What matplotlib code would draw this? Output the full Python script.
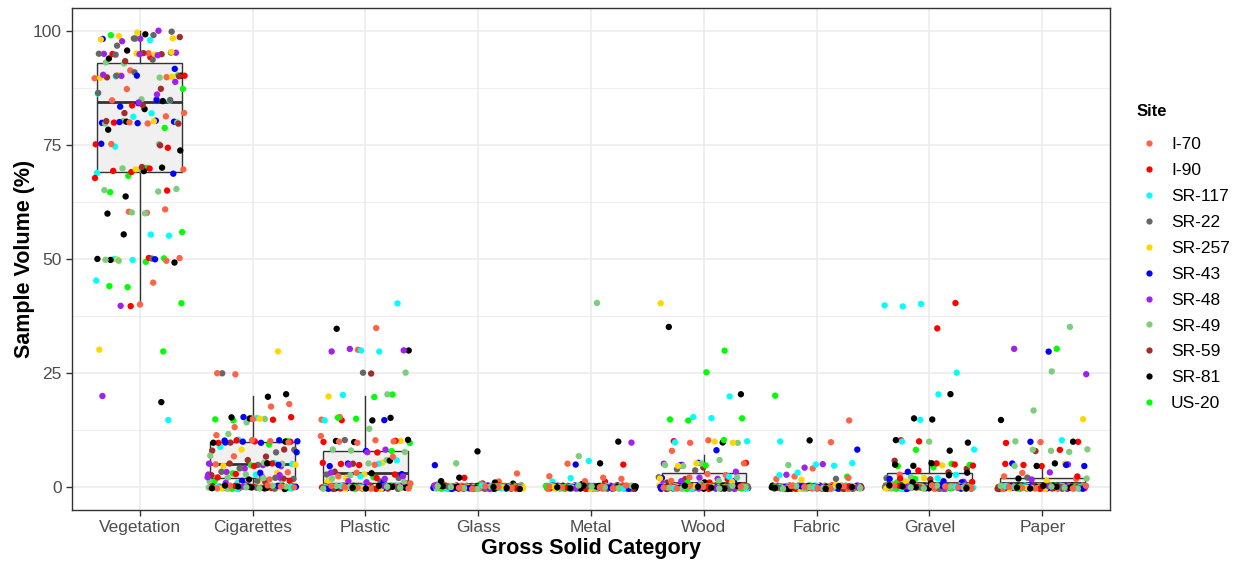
import matplotlib.pyplot as plt
from matplotlib.lines import Line2D

plt.rcParams['font.family'] = ['Liberation Sans', 'DejaVu Sans']

categories = ["Vegetation", "Cigarettes", "Plastic", "Glass", "Metal",
              "Wood", "Fabric", "Gravel", "Paper"]
sites = ["I-70", "I-90", "SR-117", "SR-22", "SR-257", "SR-43",
         "SR-48", "SR-49", "SR-59", "SR-81", "US-20"]
site_colors = ["#FF6347", "#FF0000", "#00FFFF", "#666666", "#FFD700", "#0000FF",
               "#A020F0", "#7CCD7C", "#A52A2A", "#000000", "#00FF00"]

# sample volume (%) per site; samples not listed in a category are 0
vegetation = {
    "I-70": [90, 90, 95, 91, 85, 82, 81, 80, 80, 75, 70, 61, 60, 60, 50, 50, 45, 40, 87],
    "I-90": [94, 84, 80, 75, 74, 70, 69, 69, 68, 65, 50, 40, 95, 90],
    "SR-117": [90, 86, 85, 82, 81, 75, 69, 55, 55, 50, 50, 45, 15, 98],
    "SR-22": [100, 99, 98, 97, 95, 95, 94, 91, 90, 86, 85, 50, 98, 95],
    "SR-257": [100, 99, 98, 98, 95, 95, 90, 90, 90, 80, 70, 50, 30, 95],
    "SR-43": [98, 92, 85, 84, 83, 80, 80, 80, 80, 80, 75, 69, 50, 90],
    "SR-48": [100, 98, 98, 95, 95, 95, 95, 90, 90, 89, 86, 84, 40, 20],
    "SR-49": [93, 93, 90, 90, 85, 80, 80, 80, 75, 70, 70, 65, 65, 65, 60, 60, 50, 50],
    "SR-59": [99, 95, 95, 93, 90, 90, 87, 84, 82, 80, 80, 75, 70],
    "SR-81": [99, 96, 94, 90, 85, 83, 80, 78, 74, 70, 69, 64, 60, 55, 50, 50, 49, 19],
    "US-20": [99, 87, 79, 70, 68, 65, 56, 50, 49, 44, 44, 40, 30],
}
cigarettes = {
    "I-70": [25, 25, 18, 18, 15, 13, 11, 10, 10, 10, 7, 5, 3, 2],
    "I-90": [15, 15, 10, 10, 10, 10, 5, 5, 3, 2, 1],
    "SR-117": [15, 10, 9, 5, 5, 3, 1],
    "SR-22": [25, 8, 8, 5, 4, 3, 2, 2, 1],
    "SR-257": [30, 15, 8, 5, 5, 3, 2, 1],
    "SR-43": [15, 10, 10, 10, 10, 10, 10, 8, 5, 3, 1],
    "SR-48": [5, 5, 5, 4, 3, 3, 2, 2, 1, 1, 2, 3],
    "SR-49": [15, 14, 12, 7, 5, 5, 3, 2, 1, 1, 2],
    "SR-59": [10, 8, 8, 7, 6, 5, 3, 2, 1],
    "SR-81": [20, 20, 15, 15, 10, 10, 5, 2],
    "US-20": [15, 15, 15, 10, 9, 5, 3, 1],
}
plastic = {
    "I-70": [35, 30, 15, 15, 10, 10, 10, 10, 11, 7, 5, 3, 2, 1],
    "I-90": [15, 10, 10, 8, 5, 5, 5, 3, 2],
    "SR-117": [40, 30, 30, 20, 15, 6, 5, 2],
    "SR-22": [25, 10, 3, 2, 1],
    "SR-257": [20, 10, 5, 3, 2, 1],
    "SR-43": [15, 8, 5, 5, 3, 1],
    "SR-48": [30, 30, 30, 8, 8, 5, 3, 2, 2, 1, 1],
    "SR-49": [25, 20, 13, 8, 8, 8, 6, 5, 3, 2, 1],
    "SR-59": [25, 5, 3, 1],
    "SR-81": [35, 30, 15, 15, 10, 10, 10, 6, 3],
    "US-20": [20, 20, 15, 15, 10, 8, 2],
}
glass = {
    "I-70": [3, 1, 1], "I-90": [1, 2], "SR-117": [], "SR-22": [], "SR-257": [],
    "SR-43": [5], "SR-48": [], "SR-49": [5, 1], "SR-59": [],
    "SR-81": [8, 2, 1, 1, 1], "US-20": [1],
}
metal = {
    "I-70": [5, 2, 2, 2, 1], "I-90": [5, 1], "SR-117": [6, 2, 1], "SR-22": [],
    "SR-257": [], "SR-43": [5], "SR-48": [10], "SR-49": [40, 7], "SR-59": [],
    "SR-81": [10, 5, 1], "US-20": [1],
}
wood = {
    "I-70": [10, 10, 8, 5, 3, 3, 2, 1],
    "I-90": [10, 5, 2, 1],
    "SR-117": [20, 15, 15, 10, 10, 2],
    "SR-22": [4, 4, 2, 1],
    "SR-257": [40, 10, 10, 5, 5, 2, 1],
    "SR-43": [8, 5, 5, 2, 1],
    "SR-48": [5, 5, 3, 2, 2, 1, 1],
    "SR-49": [10, 6, 5, 5, 5, 2, 1, 1],
    "SR-59": [4, 2, 1],
    "SR-81": [35, 20, 10, 1],
    "US-20": [30, 25, 15, 15, 15, 10, 5, 1],
}
fabric = {
    "I-70": [15, 10, 4, 2, 2, 2], "I-90": [], "SR-117": [10, 5, 5, 5, 3, 3],
    "SR-22": [2], "SR-257": [2], "SR-43": [8], "SR-48": [5, 4, 3],
    "SR-49": [5], "SR-59": [], "SR-81": [10], "US-20": [20, 2],
}
gravel = {
    "I-70": [3, 1],
    "I-90": [40, 35, 10, 10, 5, 5, 5, 4, 2, 1],
    "SR-117": [40, 40, 40, 25, 20, 15, 10, 8, 3, 2],
    "SR-22": [2],
    "SR-257": [5, 2, 1],
    "SR-43": [3, 2, 1, 1],
    "SR-48": [1],
    "SR-49": [10, 2, 1],
    "SR-59": [6, 4, 3, 2],
    "SR-81": [20, 15, 15, 10, 10, 8, 5, 5, 5, 3, 3, 1, 1],
    "US-20": [8, 5, 5, 5, 4, 2, 1],
}
paper = {
    "I-70": [10, 3, 2, 2],
    "I-90": [10, 10, 8, 5, 5, 5, 2],
    "SR-117": [10],
    "SR-22": [2],
    "SR-257": [15, 5, 1],
    "SR-43": [30, 10, 5, 5, 5],
    "SR-48": [30, 25, 5, 3, 2],
    "SR-49": [35, 25, 17, 10, 8, 8, 8, 8, 5, 2],
    "SR-59": [8],
    "SR-81": [15, 10, 5, 5, 2],
    "US-20": [30],
}
category_data = [vegetation, cigarettes, plastic, glass, metal, wood, fabric, gravel, paper]

# boxplot summaries (%)
box_q1 = [69, 2, 1, 0, 0, 0, 0, 0, 0]
box_med = [84.5, 5, 3, 0, 0, 1, 0, 1, 1]
box_q3 = [93, 10, 8, 0, 0, 3, 0, 3, 2]
box_lo = [40, 0, 0, 0, 0, 0, 0, 0, 0]
box_hi = [100, 20, 20, 0, 0, 7, 0, 6, 5]

n_samples = {s: len(vegetation[s]) for s in sites}

fig = plt.figure(figsize=(12.42, 5.62), dpi=100)
ax = fig.add_axes([72 / 1242, 1 - 510 / 562, 1038 / 1242, 502 / 562])

stats = []
for i in range(len(categories)):
    stats.append(dict(med=box_med[i], q1=box_q1[i], q3=box_q3[i],
                      whislo=box_lo[i], whishi=box_hi[i], fliers=[]))
ax.bxp(stats, positions=range(len(categories)), widths=0.75, showcaps=False,
       showfliers=False, patch_artist=True,
       boxprops=dict(facecolor="#F0F0F0", edgecolor="#333333", linewidth=1.0),
       whiskerprops=dict(color="#333333", linewidth=1.0),
       medianprops=dict(color="#333333", linewidth=2.0), zorder=2)

# jittered points, sites interleaved sample by sample
for c, data in enumerate(category_data):
    xs, ys, cols = [], [], []
    padded = {s: data[s] + [0] * (n_samples[s] - len(data[s])) for s in sites}
    k = 0
    for j in range(max(n_samples.values())):
        for si, s in enumerate(sites):
            if j < len(padded[s]):
                dx = ((k * 0.6180339887 + c * 0.31) % 1.0 - 0.5) * 0.8
                dy = ((k * 0.7548776662 + c * 0.17) % 1.0 - 0.5) * 0.8
                xs.append(c + dx)
                ys.append(padded[s][j] + dy)
                cols.append(site_colors[si])
                k += 1
    ax.scatter(xs, ys, s=21, c=cols, linewidths=0, zorder=3)

ax.set_xlim(-0.6, len(categories) - 0.4)
ax.set_ylim(-5, 105)
ax.set_xticks(range(len(categories)))
ax.set_xticklabels(categories)
ax.set_yticks([0, 25, 50, 75, 100])
ax.set_yticks([12.5, 37.5, 62.5, 87.5], minor=True)
ax.tick_params(axis="both", which="major", labelsize=12.5, labelcolor="#4D4D4D",
               color="#333333", length=4, width=1)
ax.tick_params(axis="y", which="minor", length=0)
ax.grid(True, which="major", color="#EBEBEB", linewidth=1.1, zorder=0)
ax.grid(True, which="minor", axis="y", color="#EBEBEB", linewidth=0.6, zorder=0)
ax.set_axisbelow(True)
for sp in ax.spines.values():
    sp.set_color("#333333")
    sp.set_linewidth(1.0)

ax.set_xlabel("Gross Solid Category", fontsize=15.5, fontweight="bold", labelpad=2)
ax.set_ylabel("Sample Volume (%)", fontsize=15.5, fontweight="bold", labelpad=-2)

# legend: title drawn as text, entries below
fig.text(1137 / 1242, 1 - 112 / 562, "Site", fontsize=12, fontweight="bold",
         ha="left", va="center")
handles = [Line2D([0], [0], marker="o", linestyle="none", markersize=4.5,
                  markerfacecolor=col, markeredgewidth=0, label=s)
           for s, col in zip(sites, site_colors)]
fig.legend(handles=handles, loc="upper left",
           bbox_to_anchor=(1137 / 1242, 1 - 137 / 562), frameon=False,
           fontsize=12.5, handlelength=1.38, handletextpad=0.58,
           labelspacing=0.62, borderpad=0, borderaxespad=0)

fig.savefig("out.png", dpi=100)
